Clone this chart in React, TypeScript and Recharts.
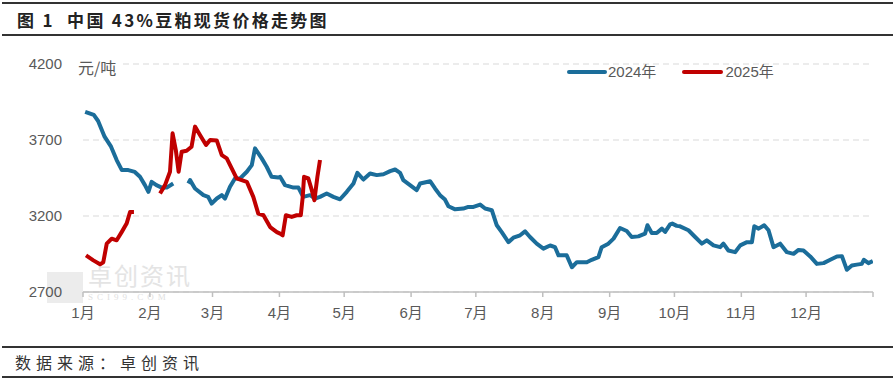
import { LineChart, Line, XAxis, YAxis, CartesianGrid } from 'recharts';

// month labels sit on the first day of each month (day-of-year, 2024 leap calendar)
const MONTH_LABELS = ['1月', '2月', '3月', '4月', '5月', '6月', '7月', '8月', '9月', '10月', '11月', '12月', ''];
const MONTH_START_DAYS = [0, 31, 60, 91, 121, 152, 182, 213, 244, 274, 305, 335, 366];
const Y_TICKS = [2700, 3200, 3700, 4200];

// 2024 spot price, null = Spring Festival break
const days2024 = [
  1, 3, 5, 7, 10, 13, 15.6, 18, 21, 24, 26.4, 28.7, 30.3, 31.8, 34, 36.5, 38.8, 41.8, 45,
  48.8, 49.6, 51.9, 55.8, 58, 59.6, 62, 64.3, 65.8, 68.1, 70.4, 72.8, 75.9, 78.2, 79.7, 82.8,
  85.1, 87.4, 90.5, 91.3, 93.6, 97.5, 99.8, 102, 105.2, 107.5, 109.8, 112.9, 116, 119.1, 122.2,
  125.3, 127.1, 129.9, 133, 136.1, 139.2, 142.3, 144.6, 146.9, 148.4, 151.5, 154.6, 156.2, 160.8,
  163.1, 165.4, 167.7, 169.3, 172.4, 176.2, 178.5, 180.9, 184, 186.3, 189.4, 191.7, 194, 197.1,
  199.4, 202.5, 204.8, 207.1, 210.2, 213.3, 216.4, 218.7, 220.3, 224.1, 226.5, 228.8, 233.4,
  235.7, 238.8, 240.3, 243.4, 245.8, 248.8, 251.9, 254.2, 257.3, 260.4, 261.5, 263.5, 265.8,
  268.2, 269.7, 272, 273, 275.1, 276.6, 280.5, 283.6, 286.7, 289, 292.1, 295.2, 296.7, 299,
  302.1, 304.5, 307.6, 309.9, 311, 313, 315.6, 317.6, 319.9, 323, 326.1, 329.2, 331.5, 333.8,
  336.9, 340, 343.1, 346.2, 349.3, 351.6, 353.9, 356.2, 358.5, 360.8, 361.8, 363.9, 365.9,
];
const price2024 = [
  3885, 3875, 3865, 3825, 3722, 3656, 3568, 3502, 3502, 3490, 3458, 3403, 3359, 3425, 3403, 3387, 3387, 3414, null,
  3414, 3436, 3381, 3337, 3326, 3282, 3315, 3337, 3315, 3392, 3447, 3447, 3491, 3535, 3645, 3579,
  3524, 3458, 3453, 3458, 3403, 3387, 3387, 3326, 3337, 3315, 3326, 3348, 3326, 3310, 3359,
  3414, 3484, 3440, 3480, 3469, 3475, 3495, 3506, 3484, 3436, 3403, 3370, 3414, 3429,
  3381, 3337, 3308, 3264, 3244, 3249, 3260, 3260, 3275, 3249, 3238, 3139, 3094, 3028,
  3057, 3073, 3099, 3062, 3018, 2985, 3006, 2995, 2941, 2941, 2863, 2896, 2896,
  2912, 2930, 2995, 3018, 3051, 3121, 3101, 3062, 3066, 3084, 3139, 3088, 3088,
  3117, 3095, 3145, 3150, 3135, 3132, 3106, 3062, 3018, 3040, 3007, 2995, 3018, 2973,
  2962, 3007, 3028, 3028, 3132, 3117, 3139, 3106, 2995, 3018, 2962, 2951, 2977, 2973,
  2934, 2885, 2890, 2912, 2934, 2936, 2846, 2874, 2880, 2885, 2912, 2890, 2903,
];

// 2025 spot price so far
const days2025 = [
  1.4, 4.8, 7.9, 9.4, 11, 13.3, 15.6, 17.9, 20.2, 21.8, 23.6, 30,
  35.7, 38, 40.3, 41.5, 43, 44.3, 45.7, 48, 50.3, 51.9, 54.2, 57, 58.9, 62, 64.3, 66.6,
  68.9, 71.2, 73.5, 75.9, 78.9, 81.2, 83.6, 86.7, 89.8, 91.3, 92.5, 94, 96.7, 99, 100.9,
  101.8, 102.4, 104.4, 106, 107.2, 108.6, 109.8,
];
const price2025 = [
  2941, 2908, 2882, 2896, 3018, 3051, 3040, 3094, 3150, 3226, 3226, null,
  3348, 3403, 3491, 3744, 3634, 3491, 3623, 3629, 3656, 3788, 3733, 3667, 3700, 3696, 3601, 3579,
  3513, 3447, 3436, 3425, 3326, 3216, 3205, 3127, 3094, 3084, 3073, 3205, 3194, 3205, 3205,
  3326, 3458, 3447, 3370, 3304, 3458, 3568,
];

const series2024 = days2024.map((day, i) => ({ day, price: price2024[i] }));
const series2025 = days2025.map((day, i) => ({ day, price: price2025[i] }));

const BLUE = '#1b6d9a';
const RED = '#c00000';
const GRAY_TEXT = '#595959';
const SANS = '"Liberation Sans", "Noto Sans CJK SC", sans-serif';
const CJK = '"Noto Sans CJK SC", sans-serif';

export default function App() {
  return (
    <div style={{ position: 'absolute', left: 0, top: 0, width: 895, height: 383, background: '#fff', overflow: 'hidden' }}>
      {/* title block */}
      <div style={{ position: 'absolute', left: 2, right: 2, top: 2, height: 2, background: '#333' }} />
      <div
        style={{
          position: 'absolute', left: 17, top: 8, fontFamily: CJK, fontWeight: 700,
          fontSize: 17, letterSpacing: 2.3, color: '#222', whiteSpace: 'pre', lineHeight: '24px',
        }}
      >
        {'图 1  中国 43%豆粕现货价格走势图'}
      </div>
      <div style={{ position: 'absolute', left: 2, right: 2, top: 34, height: 2, background: '#333' }} />

      {/* watermark */}
      <div style={{ position: 'absolute', left: 47, top: 272, width: 36, height: 31, background: '#ececec' }} />
      <div style={{ position: 'absolute', left: 88, top: 262, fontFamily: CJK, fontSize: 24, letterSpacing: 2, color: '#e4e4e4', lineHeight: '26px' }}>
        卓创资讯
      </div>
      <div style={{ position: 'absolute', left: 88, top: 293, fontFamily: '"Liberation Serif", serif', fontSize: 9, letterSpacing: 4, color: '#e0e0e0', lineHeight: '9px' }}>
        SCI99.COM
      </div>

      <LineChart
        width={895}
        height={383}
        margin={{ top: 64, right: 22, bottom: 61, left: 23 }}
        style={{ position: 'absolute', left: 0, top: 0 }}
      >
        <CartesianGrid vertical={false} stroke="#d9d9d9" strokeDasharray="6 4" />
        <XAxis
          type="number"
          dataKey="day"
          domain={[0, 366]}
          ticks={MONTH_START_DAYS}
          tickFormatter={(v: number) => MONTH_LABELS[MONTH_START_DAYS.indexOf(v)]}
          interval={0}
          height={30}
          axisLine={{ stroke: '#bfbfbf', strokeWidth: 1.5 }}
          tickLine={{ stroke: '#bfbfbf', strokeWidth: 1.5 }}
          tickSize={5}
          tickMargin={10}
          tick={{ fill: GRAY_TEXT, fontSize: 15, fontFamily: SANS }}
          allowDataOverflow
        />
        <YAxis
          type="number"
          domain={[2700, 4200]}
          ticks={Y_TICKS}
          interval={0}
          width={60}
          axisLine={false}
          tickLine={false}
          tickSize={0}
          tickMargin={21}
          tick={{ fill: GRAY_TEXT, fontSize: 15, fontFamily: SANS }}
          allowDataOverflow
        />
        <Line
          data={series2024}
          dataKey="price"
          name="2024年"
          type="linear"
          stroke={BLUE}
          strokeWidth={4}
          strokeLinejoin="round"
          dot={false}
          activeDot={false}
          isAnimationActive={false}
        />
        <Line
          data={series2025}
          dataKey="price"
          name="2025年"
          type="linear"
          stroke={RED}
          strokeWidth={4}
          strokeLinejoin="round"
          dot={false}
          activeDot={false}
          isAnimationActive={false}
        />
      </LineChart>

      {/* unit label, covers the top gridline like the original */}
      <div
        style={{
          position: 'absolute', left: 76, top: 56, padding: '0 4px 0 2px', background: '#fff',
          fontFamily: CJK, fontSize: 16, color: GRAY_TEXT, lineHeight: '22px',
        }}
      >
        元/吨
      </div>

      {/* legend */}
      <div style={{ position: 'absolute', left: 567, top: 61, display: 'flex', alignItems: 'center', fontFamily: SANS, fontSize: 15, color: GRAY_TEXT, lineHeight: '22px' }}>
        <span style={{ display: 'inline-block', width: 40, height: 4, background: BLUE, borderRadius: 2 }} />
        <span style={{ marginLeft: 1 }}>2024年</span>
        <span style={{ display: 'inline-block', width: 41, height: 4, background: RED, borderRadius: 2, marginLeft: 26 }} />
        <span style={{ marginLeft: 2 }}>2025年</span>
      </div>

      {/* source */}
      <div style={{ position: 'absolute', left: 2, right: 2, top: 346, height: 2, background: '#333' }} />
      <div
        style={{
          position: 'absolute', left: 15, top: 351, fontFamily: CJK, fontSize: 16, letterSpacing: 5,
          color: '#333', lineHeight: '22px',
        }}
      >
        数据来源：卓创资讯
      </div>
      <div style={{ position: 'absolute', left: 2, right: 2, top: 376, height: 2, background: '#333' }} />
    </div>
  );
}
